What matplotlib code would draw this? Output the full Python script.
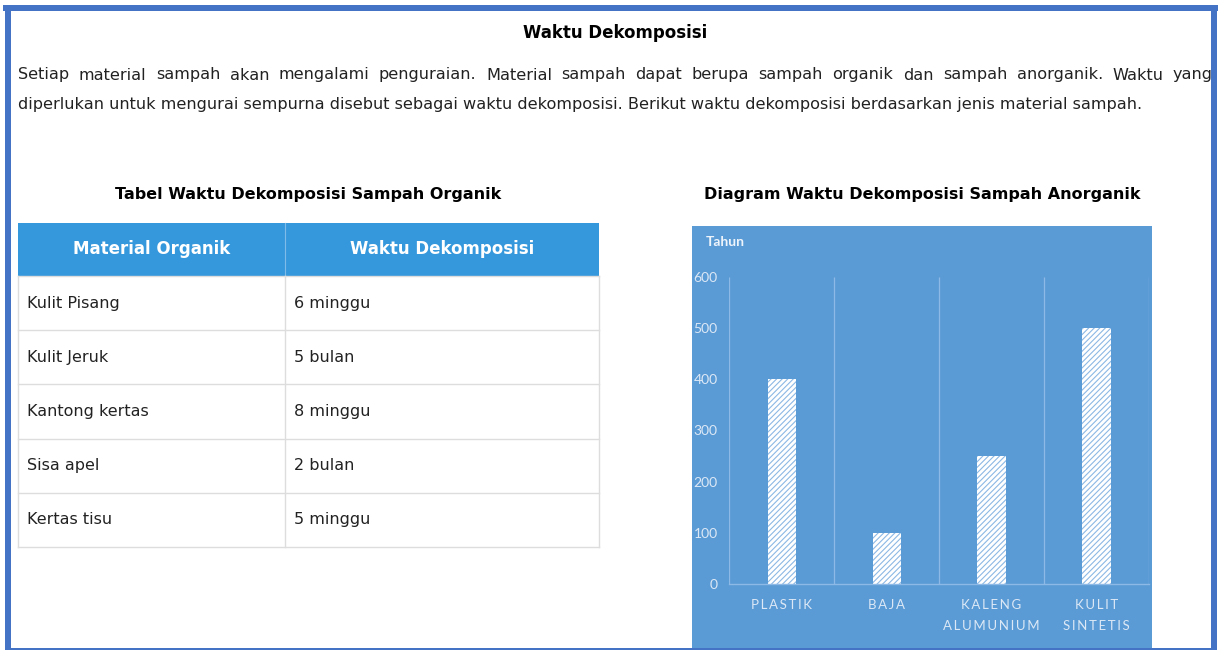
import matplotlib
matplotlib.use('Agg')
import matplotlib.pyplot as plt
from matplotlib.patches import Rectangle

W, H = 1220, 650

# ---- data ----
judul = "Waktu Dekomposisi"
paragraf = [
    "Setiap material sampah akan mengalami penguraian. Material sampah dapat berupa sampah organik dan sampah anorganik. Waktu yang",
    "diperlukan untuk mengurai sempurna disebut sebagai waktu dekomposisi. Berikut waktu dekomposisi berdasarkan jenis material sampah.",
]

judul_tabel = "Tabel Waktu Dekomposisi Sampah Organik"
kolom_tabel = ["Material Organik", "Waktu Dekomposisi"]
material_organik = ["Kulit Pisang", "Kulit Jeruk", "Kantong kertas", "Sisa apel", "Kertas tisu"]
waktu_organik = ["6 minggu", "5 bulan", "8 minggu", "2 bulan", "5 minggu"]

judul_diagram = "Diagram Waktu Dekomposisi Sampah Anorganik"
material_anorganik = ["PLASTIK", "BAJA", "KALENG\nALUMUNIUM", "KULIT\nSINTETIS"]
tahun = [400, 100, 250, 500]
yticks = [0, 100, 200, 300, 400, 500, 600]
label_y = "Tahun"

# ---- colours ----
BINGKAI = "#4472C4"
PANEL = "#5B9BD5"
HEADER = "#3598DC"
GARIS = "#DDDDDD"
TEKS = "#222222"
TEKS_CHART = "#DCE8F6"
FONT_CHART = ["Lato", "DejaVu Sans"]

fig = plt.figure(figsize=(W / 100, H / 100), dpi=100)
bg = fig.add_axes([0, 0, 1, 1])
bg.set_xlim(0, W)
bg.set_ylim(H, 0)
bg.axis("off")

# bingkai biru
bg.add_patch(Rectangle((3, 5), 1215, 6, color=BINGKAI, lw=0))
bg.add_patch(Rectangle((5, 5), 6, 645, color=BINGKAI, lw=0))
bg.add_patch(Rectangle((1211, 5), 6, 645, color=BINGKAI, lw=0))
bg.add_patch(Rectangle((5, 647.5), 1212, 2.5, color=BINGKAI, lw=0))

# judul + paragraf
bg.text(615, 33, judul, ha="center", va="center", fontsize=12, fontweight="bold", color="black")

renderer = fig.canvas.get_renderer()
fs_par = 11.65
# baris 1 rata kiri-kanan
kata = paragraf[0].split(" ")
lebar = []
for k in kata:
    t = bg.text(0, 0, k, fontsize=fs_par)
    lebar.append(t.get_window_extent(renderer=renderer).width)
    t.remove()
x0, x1 = 18, 1213
gap = (x1 - x0 - sum(lebar)) / (len(kata) - 1)
x = x0
for k, w in zip(kata, lebar):
    bg.text(x, 75, k, ha="left", va="center", fontsize=fs_par, color=TEKS)
    x += w + gap
bg.text(18, 105, paragraf[1], ha="left", va="center", fontsize=fs_par, color=TEKS)

# ---- tabel ----
bg.text(308.5, 194, judul_tabel, ha="center", va="center", fontsize=11.5, fontweight="bold", color="black")
tx0, tmid, tx1 = 18, 285, 599
ty_head, ty_body = 223, 276
tinggi_baris = 54.2
bg.add_patch(Rectangle((tx0, ty_head), tx1 - tx0, ty_body - ty_head, color=HEADER, lw=0))
bg.plot([tmid, tmid], [ty_head, ty_body], color="#7FBCE8", lw=0.8)
bg.text((tx0 + tmid) / 2, (ty_head + ty_body) / 2, kolom_tabel[0], ha="center", va="center",
        fontsize=12, fontweight="bold", color="white")
bg.text((tmid + tx1) / 2, (ty_head + ty_body) / 2, kolom_tabel[1], ha="center", va="center",
        fontsize=12, fontweight="bold", color="white")
n = len(material_organik)
ty_end = ty_body + n * tinggi_baris
for i in range(n + 1):
    yy = ty_body + i * tinggi_baris
    bg.plot([tx0, tx1], [yy, yy], color=GARIS, lw=1)
for xx in (tx0, tmid, tx1):
    bg.plot([xx, xx], [ty_body, ty_end], color=GARIS, lw=1)
for i, (m, w) in enumerate(zip(material_organik, waktu_organik)):
    yc = ty_body + (i + 0.5) * tinggi_baris
    bg.text(tx0 + 9, yc, m, ha="left", va="center", fontsize=11.5, color=TEKS)
    bg.text(tmid + 9, yc, w, ha="left", va="center", fontsize=11.5, color=TEKS)

# ---- diagram batang ----
bg.text(922, 194, judul_diagram, ha="center", va="center", fontsize=11.5, fontweight="bold", color="black")
bg.add_patch(Rectangle((692, 226), 460, 421.5, color=PANEL, lw=0))
bg.text(706, 242, label_y, ha="left", va="center", fontsize=10, fontweight="bold",
        family=FONT_CHART, color="#EEF4FB")

ax_l, ax_r, ax_t, ax_b = 729.3, 1149, 276.7, 584
ax = fig.add_axes([ax_l / W, (H - ax_b) / H, (ax_r - ax_l) / W, (ax_b - ax_t) / H])
ax.patch.set_alpha(0)
plt.rcParams["hatch.linewidth"] = 0.8
pos = list(range(len(tahun)))
ax.bar(pos, tahun, width=0.27, color="white", edgecolor="#8CB8E4", hatch="//////", linewidth=0)
ax.vlines([p - 0.5 for p in pos] + [pos[-1] + 0.5], 0, 600, color="#8DB9E6", lw=0.9)
ax.set_xlim(-0.5, len(tahun) - 0.5)
ax.set_ylim(0, 600)
for s in ("top", "left", "right"):
    ax.spines[s].set_visible(False)
ax.spines["bottom"].set_color("#8DB9E6")
ax.spines["bottom"].set_linewidth(1)
ax.set_yticks(yticks)
ax.set_yticklabels([str(v) for v in yticks], family=FONT_CHART)
ax.set_xticks(pos)
ax.set_xticklabels(["\n".join("\u2009".join(b) for b in m.split("\n")) for m in material_anorganik],
                   family=FONT_CHART, linespacing=1.85)
ax.tick_params(axis="y", length=0, pad=8.5, labelcolor=TEKS_CHART, labelsize=10)
ax.tick_params(axis="x", length=0, pad=11, labelcolor=TEKS_CHART, labelsize=9.5)

fig.savefig("out.png", dpi=100)
